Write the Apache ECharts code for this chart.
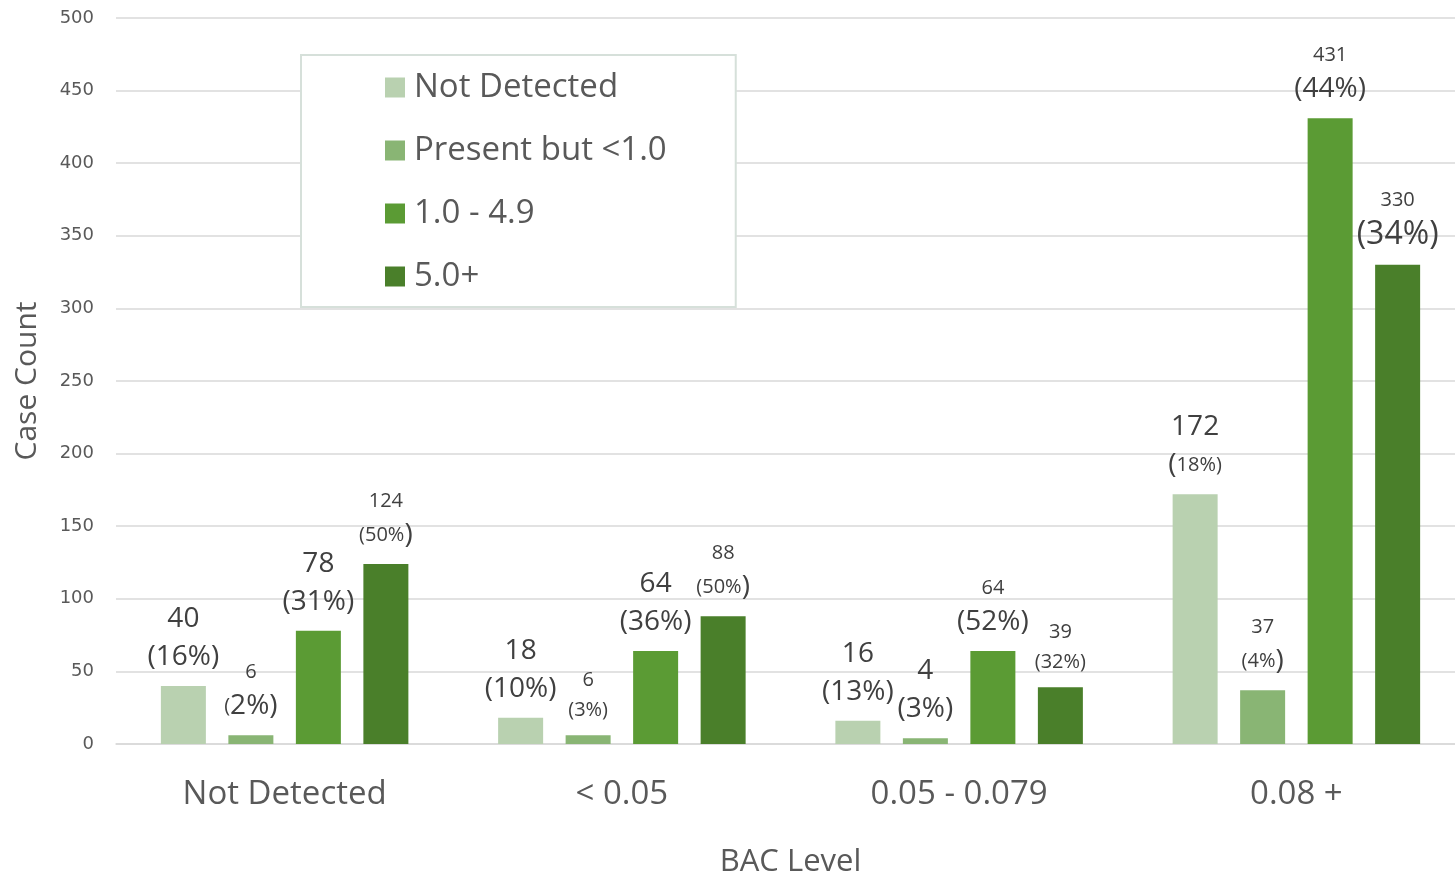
<!DOCTYPE html>
<html>
<head>
<meta charset="utf-8">
<script src="https://cdn.jsdelivr.net/npm/echarts@6/dist/echarts.min.js"></script>
<style>
html,body{margin:0;padding:0;background:#fff;overflow:hidden;}
#chart{width:1455px;height:878px;}
</style>
</head>
<body>
<div id="chart"></div>
<script>
const categories = ['Not Detected', '< 0.05', '0.05 - 0.079', '0.08 +'];
const seriesNames = ['Not Detected', 'Present but <1.0', '1.0 - 4.9', '5.0+'];
const notDetected = [40, 18, 16, 172];
const presentLt1 = [6, 6, 4, 37];
const range1to49 = [78, 64, 64, 431];
const fivePlus = [124, 88, 39, 330];
const pctNotDetected = ['16%', '10%', '13%', '18%'];
const pctPresentLt1 = ['2%', '3%', '3%', '4%'];
const pctRange1to49 = ['31%', '36%', '52%', '44%'];
const pctFivePlus = ['50%', '50%', '32%', '34%'];
const yTicks = [0, 50, 100, 150, 200, 250, 300, 350, 400, 450, 500];

// styling: label text sizes per series/category: [count, "(", percent, ")"]
const colors = ['#b9d1b0', '#89b574', '#5b9b34', '#4a7f2a'];
const labelSizes = [
  [['L','L','L','L'],['L','L','L','L'],['L','L','L','L'],['L','L','S','S']],
  [['S','S','L','L'],['S','S','S','S'],['L','L','L','L'],['S','S','S','L']],
  [['L','L','L','L'],['L','L','L','L'],['S','L','L','L'],['S','L','L','L']],
  [['S','S','S','L'],['S','S','S','L'],['S','S','S','S'],['S','X','X','X']]
];
const FONT = '"Open Sans", "Noto Sans", sans-serif';
const rich = {
  L: {fontSize: 28, lineHeight: 38, color: '#404040', fontFamily: FONT, verticalAlign: 'middle'},
  S: {fontSize: 20, lineHeight: 30, color: '#404040', fontFamily: FONT, verticalAlign: 'middle'},
  X: {fontSize: 32, lineHeight: 40, color: '#404040', fontFamily: FONT, verticalAlign: 'middle'}
};

const values = [notDetected, presentLt1, range1to49, fivePlus];
const pcts = [pctNotDetected, pctPresentLt1, pctRange1to49, pctFivePlus];

const series = seriesNames.map((name, si) => ({
  name: name,
  type: 'bar',
  barWidth: 45,
  barGap: '50%',
  itemStyle: {color: colors[si]},
  label: {
    show: true,
    position: 'top',
    distance: 10,
    formatter: function (p) {
      const s = labelSizes[si][p.dataIndex];
      return '{' + s[0] + '|' + values[si][p.dataIndex] + '}\n' +
        '{' + s[1] + '|(}{' + s[2] + '|' + pcts[si][p.dataIndex] + '}{' + s[3] + '|)}';
    },
    rich: rich
  },
  data: values[si]
}));

const chart = echarts.init(document.getElementById('chart'));
chart.setOption({
  animation: false,
  backgroundColor: '#ffffff',
  grid: {left: 116, right: -10, top: 18, bottom: 134, containLabel: false, outerBoundsMode: 'none'},
  legend: {
    orient: 'vertical',
    left: 301,
    top: 55,
    padding: [16, 69, 14, 84],
    backgroundColor: '#ffffff',
    borderColor: '#d6e0da',
    borderWidth: 2,
    icon: 'rect',
    itemWidth: 20,
    itemHeight: 20,
    itemGap: 30,
    textStyle: {fontSize: 33, lineHeight: 30, color: '#595959', fontFamily: FONT, padding: [0, 0, 0, 4]},
    data: seriesNames
  },
  xAxis: {
    type: 'category',
    data: categories,
    name: 'BAC Level',
    nameLocation: 'middle',
    nameGap: 103,
    nameTextStyle: {fontSize: 31, color: '#595959', fontFamily: FONT},
    axisLine: {show: true, lineStyle: {color: '#d9d9d9', width: 1.5}},
    axisTick: {show: false},
    axisLabel: {fontSize: 33, color: '#595959', fontFamily: FONT, margin: 34}
  },
  yAxis: {
    type: 'value',
    min: yTicks[0],
    max: yTicks[yTicks.length - 1],
    interval: 50,
    name: 'Case Count',
    nameLocation: 'middle',
    nameGap: 74,
    nameTextStyle: {fontSize: 30, color: '#595959', fontFamily: FONT},
    axisLine: {show: false},
    axisTick: {show: false},
    splitLine: {lineStyle: {color: '#d9d9d9', width: 1.5}},
    axisLabel: {fontSize: 18, color: '#595959', fontFamily: '"DejaVu Sans", sans-serif', margin: 22}
  },
  series: series
});
</script>
</body>
</html>
